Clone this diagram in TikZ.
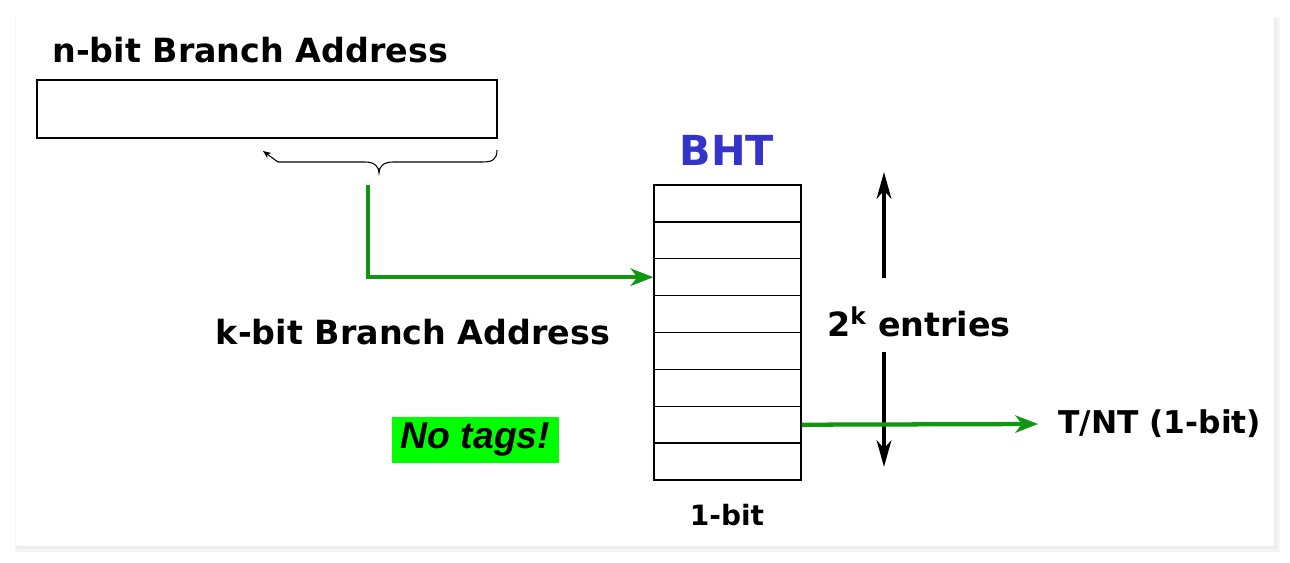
\documentclass[tikz,border=0pt]{standalone}
\usepackage{fontspec}
\setmainfont{DejaVu Sans}
\newfontfamily\tagfont{Liberation Sans}
\usetikzlibrary{arrows.meta}
\definecolor{bhtgreen}{RGB}{16,150,16}
\definecolor{bhtblue}{RGB}{52,52,200}
\definecolor{taggreen}{RGB}{0,255,0}

\begin{document}
\begin{tikzpicture}[x=0.75pt, y=-0.75pt,
  every node/.style={font=\bfseries\fontsize{25}{28}\selectfont, inner sep=0pt},
  row/.style={draw, line width=1pt, minimum width=110.25pt, minimum height=27.66pt},
  greenarrow/.style={draw=bhtgreen, line width=3.2pt, -{Stealth[length=17pt, width=13pt, inset=5pt]}},
  blackarrow/.style={draw=black, line width=3pt, -{Stealth[length=20pt, width=11pt, inset=6pt]}}]
\useasboundingbox (0,0) rectangle (1290,562);
\fill[black!4] (15,17) rectangle (1280,552);
\fill[black!7] (17,19) rectangle (1277,549);
\fill[white] (16,16) rectangle (1274,546);
\node[anchor=west] (ntitle) at (52,50) {n-bit Branch Address};
\node[draw, line width=1pt, minimum width=345pt, minimum height=43.5pt] (addr) at (267,109) {};
\draw[line width=0.8pt, -{Stealth[length=6pt, width=5pt]}] (497,150) .. controls (497,160) and (492,162) .. (482,162) -- (393,162) .. controls (383,162) and (379,167) .. (379,173) .. controls (379,167) and (375,162) .. (365,162) -- (278,162) -- (263,151);
\node[text=bhtblue, font=\bfseries\fontsize{31}{34}\selectfont] (bht) at (727,150) {BHT};
\node[row] (R1) at (727.5,203.4) {};
\node[row] (R2) at (727.5,240.3) {};
\node[row] (R3) at (727.5,277.2) {};
\node[row] (R4) at (727.5,314.1) {};
\node[row] (R5) at (727.5,350.9) {};
\node[row] (R6) at (727.5,387.8) {};
\node[row] (R7) at (727.5,424.7) {};
\node[row] (R8) at (727.5,461.6) {};
\node[font=\bfseries\fontsize{21}{24}\selectfont] (onebit) at (727,515) {1-bit};
\coordinate (kstart) at (368,185);
\draw[greenarrow] (kstart) |- (R3.west);
\node (kbit) at (413,332) {k-bit Branch Address};
\node[fill=taggreen, minimum width=125pt, minimum height=34.5pt] (notags) at (475.5,440) {\tagfont\bfseries\itshape\fontsize{28}{31}\selectfont No tags!};
\node (entries) at (919,322) {2\textsuperscript{k} entries};
\coordinate (uptip) at (884,172);
\coordinate (upstart) at (884,278);
\coordinate (downstart) at (884,352);
\coordinate (downtip) at (884,467);
\draw[blackarrow] (upstart) -- (uptip);
\draw[blackarrow] (downstart) -- (downtip);
\node[anchor=west, font=\bfseries\fontsize{23.5}{26}\selectfont] (tnt) at (1058,424) {T/NT (1-bit)};
\draw[greenarrow] (R7.east) -- (tnt.west -| 1038,0);
\end{tikzpicture}
\end{document}
